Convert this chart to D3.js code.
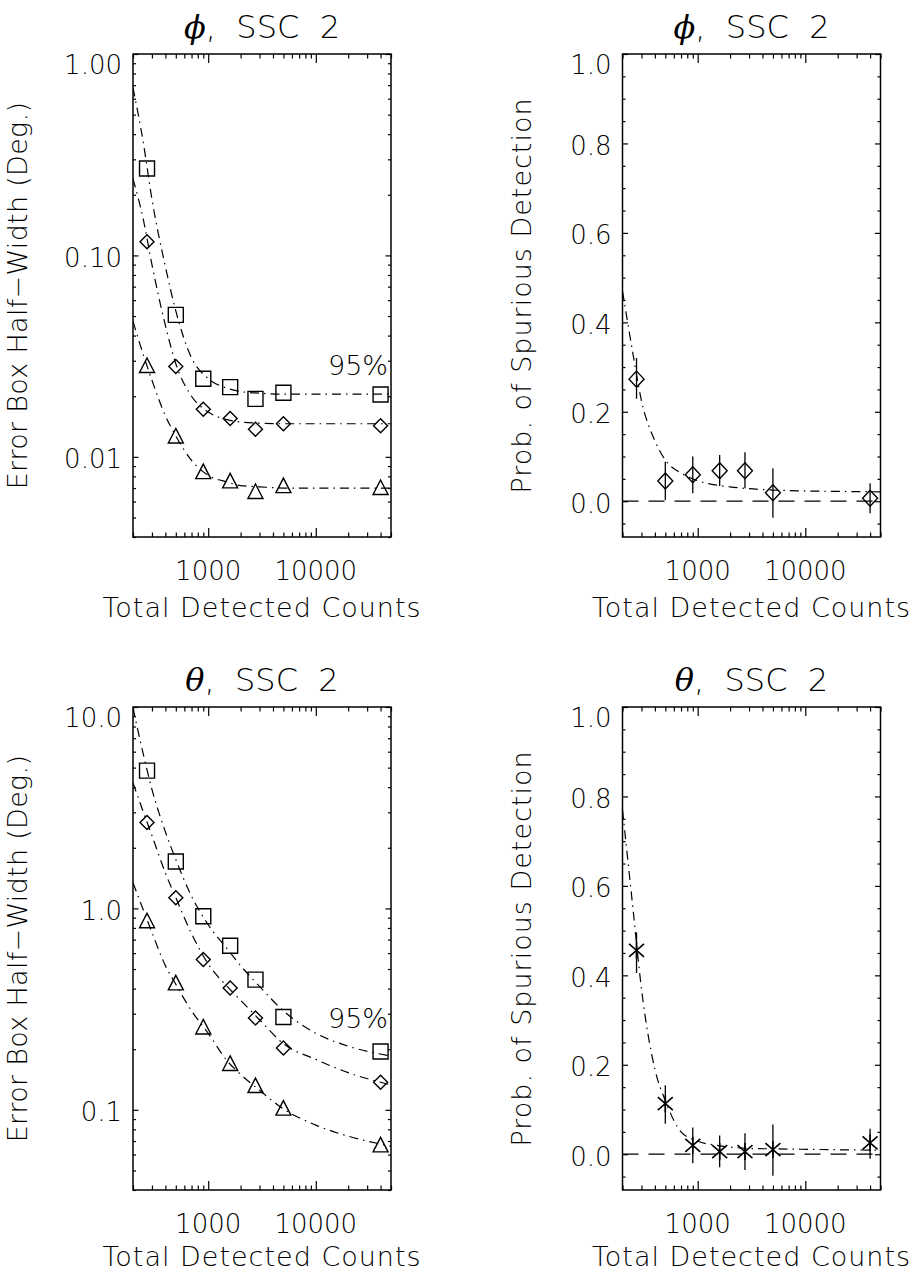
<!DOCTYPE html>
<html>
<head>
<meta charset="utf-8">
<script src="https://cdn.jsdelivr.net/npm/d3@7"></script>
<style>
body { margin: 0; background: #fff; }
text { font-family: "DejaVu Sans", sans-serif; font-weight: 200; fill: #000; }
</style>
</head>
<body>
<svg id="fig" width="917" height="1272"></svg>
<script>
// total detected counts of the simulated sources
const counts = [270, 500, 900, 1600, 2750, 5000, 40000]
const fitCounts = [200, 250, 300, 400, 500, 700, 1000, 1500, 2000, 3000, 5000, 10000, 20000, 50000]

// phi, error box half-width (deg): square = 95%, diamond, triangle
const phiSquare   = [0.27, 0.0507, 0.0244, 0.0222, 0.0194, 0.0208, 0.0204]
const phiDiamond  = [0.117, 0.0281, 0.01725, 0.0155, 0.0137, 0.0146, 0.01425]
const phiTriangle = [0.0284, 0.0127, 0.00845, 0.0076, 0.00673, 0.0072, 0.00704]
const phiSquareFit   = [0.68, 0.36, 0.19, 0.088, 0.053, 0.031, 0.0245, 0.0219, 0.0211, 0.0207, 0.0205, 0.0205, 0.0205, 0.0205]
const phiDiamondFit  = [0.24, 0.15, 0.09, 0.045, 0.029, 0.020, 0.0167, 0.0153, 0.0149, 0.0147, 0.0146, 0.0146, 0.0146, 0.0146]
const phiTriangleFit = [0.047, 0.032, 0.024, 0.016, 0.0127, 0.0096, 0.0081, 0.0075, 0.0072, 0.0071, 0.0070, 0.0070, 0.0070, 0.0070]

// theta, error box half-width (deg)
const thSquare   = [4.83, 1.71, 0.914, 0.653, 0.443, 0.289, 0.195]
const thDiamond  = [2.67, 1.13, 0.557, 0.403, 0.286, 0.203, 0.137]
const thTriangle = [0.869, 0.427, 0.258, 0.170, 0.132, 0.102, 0.067]
const thSquareFit   = [9.9, 5.8, 3.9, 2.4, 1.75, 1.15, 0.83, 0.63, 0.52, 0.41, 0.31, 0.24, 0.207, 0.185]
const thDiamondFit  = [4.2, 3.0, 2.3, 1.5, 1.13, 0.75, 0.53, 0.41, 0.35, 0.28, 0.213, 0.178, 0.153, 0.133]
const thTriangleFit = [1.34, 0.98, 0.76, 0.52, 0.42, 0.31, 0.24, 0.175, 0.150, 0.125, 0.101, 0.084, 0.074, 0.066]

// probability of spurious detection with error bars
const phiProb   = [0.273, 0.045, 0.059, 0.068, 0.068, 0.019, 0.0067]
const phiProbHi = [0.320, 0.0885, 0.100, 0.1035, 0.1095, 0.074, 0.040]
const phiProbLo = [0.229, 0.003, 0.018, 0.034, 0.029, -0.037, -0.027]
const phiProbFit = [0.47, 0.33, 0.225, 0.135, 0.092, 0.063, 0.046, 0.036, 0.032, 0.028, 0.025, 0.023, 0.022, 0.021]

const thProb   = [0.456, 0.113, 0.020, 0.006, 0.006, 0.0105, 0.0255]
const thProbHi = [0.496, 0.154, 0.060, 0.042, 0.047, 0.0665, 0.057]
const thProbLo = [0.405, 0.068, -0.020, -0.029, -0.035, -0.048, -0.010]
const thProbFit = [0.77, 0.55, 0.37, 0.19, 0.12, 0.050, 0.029, 0.020, 0.016, 0.013, 0.012, 0.011, 0.010, 0.009]

const xMajor = [1000, 10000]
const logYLabels = { phi: ["1.00", "0.10", "0.01"], theta: ["10.0", "1.0", "0.1"] }

const svg = d3.select("#fig")
const W = 258, H = 483
const dashDot = "9,5,1.5,5"

const markerPath = {
    square:   "M-7.5,-7.5H7.5V7.5H-7.5Z",
    diamond:  "M0,-7L7,0L0,7L-7,0Z",
    bdiamond: "M0,-8L7.5,0L0,8L-7.5,0Z",
    triangle: "M0,-7.5L7.5,7L-7.5,7Z",
    star:     "M0,-8.5V8.5M-7.5,-6.5L7.5,6.5M-7.5,6.5L7.5,-6.5"
}

function panel(o)
{
    let g = svg.append("g").attr("transform", `translate(${o.left},${o.top})`)
    let x = d3.scaleLog().domain([200, 50000]).range([0, W])
    let y = o.log ? d3.scaleLog().domain(o.yDomain).range([H, 0])
                  : d3.scaleLinear().domain(o.yDomain).range([H, 0])

    let clipId = "clip" + o.id
    g.append("clipPath").attr("id", clipId).append("rect").attr("width", W).attr("height", H)

    // ticks, IDL style: inward on all four sides
    let xMinor = x.ticks().filter(d => !xMajor.includes(d))
    let yMajor, yMinor
    if (o.log) {
        yMinor = y.ticks()
        yMajor = yMinor.filter(d => Math.abs(Math.log10(d) - Math.round(Math.log10(d))) < 1e-6)
        yMinor = yMinor.filter(d => !yMajor.includes(d))
    } else {
        yMajor = d3.range(0, 1.0001, 0.2)
        yMinor = d3.range(-0.05, 1.0001, 0.05).filter(d => Math.abs(d / 0.2 - Math.round(d / 0.2)) > 1e-6)
    }
    function ax(fn, vals, size, tr) {
        let a = g.append("g").attr("transform", tr)
            .call(fn.tickValues(vals).tickSize(-size).tickSizeOuter(0).tickFormat(""))
        a.select(".domain").remove()
        a.selectAll("line").attr("stroke", "#000").attr("stroke-width", 1.2)
    }
    ax(d3.axisBottom(x), xMinor, 4.5, `translate(0,${H})`)
    ax(d3.axisBottom(x), xMajor, 9, `translate(0,${H})`)
    ax(d3.axisTop(x), xMinor, 4.5, "translate(0,0)")
    ax(d3.axisTop(x), xMajor, 9, "translate(0,0)")
    ax(d3.axisLeft(y), yMinor, 3, "translate(0,0)")
    ax(d3.axisLeft(y), yMajor, 5.5, "translate(0,0)")
    ax(d3.axisRight(y), yMinor, 3, `translate(${W},0)`)
    ax(d3.axisRight(y), yMajor, 5.5, `translate(${W},0)`)

    g.append("rect").attr("width", W).attr("height", H)
        .attr("fill", "none").attr("stroke", "#000").attr("stroke-width", 1.5)

    // tick labels
    g.selectAll(".xl").data(xMajor).enter().append("text")
        .attr("x", d => x(d)).attr("y", H + 43)
        .attr("text-anchor", "middle").style("font-size", "26px")
        .text(d => d)
    g.selectAll(".yl").data(yMajor).enter().append("text")
        .attr("x", -11)
        .attr("y", d => y(d) + (Math.abs(y(d)) < 1 ? 20 : 11.5))
        .attr("text-anchor", "end").style("font-size", "26px")
        .text((d, i) => o.log ? o.yLabels[yMajor.length - 1 - i] : d.toFixed(1))

    // axis titles
    g.append("text").attr("x", W / 2).attr("y", H + o.xTitleDy)
        .attr("text-anchor", "middle").style("font-size", "27px").style("letter-spacing", "1px")
        .text("Total Detected Counts")
    g.append("text")
        .attr("transform", `translate(${o.yTitleX},${H / 2}) rotate(-90)`)
        .attr("text-anchor", "middle").style("font-size", o.yTitleSize)
        .style("letter-spacing", o.yTitleSpacing)
        .text(o.yTitle)

    // panel title
    let t = g.append("text").attr("x", W / 2).attr("y", -16)
        .attr("text-anchor", "middle").style("font-size", "32px")
    t.append("tspan").style("font-family", "'DejaVu Serif', serif").style("font-style", "italic")
        .style("font-weight", "normal").text(o.greek)
    t.append("tspan").style("white-space", "pre").text(",  SSC  2")

    let plot = g.append("g").attr("clip-path", `url(#${clipId})`)
    let line = d3.line().x((d, i) => x(fitCounts[i])).y(d => y(d)).curve(d3.curveMonotoneX)

    if (o.zero) {
        plot.append("line").attr("x1", 0).attr("x2", W).attr("y1", y(0)).attr("y2", y(0))
            .attr("stroke", "#000").attr("stroke-width", 1.2).attr("stroke-dasharray", "16,10")
    }

    o.series.forEach(s => {
        plot.append("path").attr("d", line(s.fit))
            .attr("fill", "none").attr("stroke", "#000").attr("stroke-width", 1.2)
            .attr("stroke-dasharray", dashDot)
        if (s.hi) {
            plot.selectAll(null).data(s.values).enter().append("line")
                .attr("x1", (d, i) => x(counts[i])).attr("x2", (d, i) => x(counts[i]))
                .attr("y1", (d, i) => y(s.lo[i])).attr("y2", (d, i) => y(s.hi[i]))
                .attr("stroke", "#000").attr("stroke-width", 1.3)
        }
        plot.selectAll(null).data(s.values).enter().append("path")
            .attr("transform", (d, i) => `translate(${x(counts[i])},${y(d)})`)
            .attr("d", markerPath[s.marker])
            .attr("fill", "none").attr("stroke", "#000")
            .attr("stroke-width", s.marker == "star" ? 1.6 : 1.4)
    })

    if (o.note) {
        g.append("text").attr("x", W - 3).attr("y", 321)
            .attr("text-anchor", "end").style("font-size", "27px").text(o.note)
    }
}

panel({ id: 1, left: 133, top: 54, log: true, yDomain: [0.004, 1], yLabels: logYLabels.phi,
        greek: "\u03d5", yTitle: "Error Box Half\u2212Width (Deg.)", yTitleX: -106,
        yTitleSize: "27px", yTitleSpacing: "0.3px", xTitleDy: 80, note: "95%",
        series: [ { values: phiSquare, fit: phiSquareFit, marker: "square" },
                  { values: phiDiamond, fit: phiDiamondFit, marker: "diamond" },
                  { values: phiTriangle, fit: phiTriangleFit, marker: "triangle" } ] })

panel({ id: 2, left: 622.5, top: 54, log: false, yDomain: [-0.08, 1.0], zero: true,
        greek: "\u03d5", yTitle: "Prob. of Spurious Detection", yTitleX: -92,
        yTitleSize: "27px", yTitleSpacing: "1px", xTitleDy: 80,
        series: [ { values: phiProb, hi: phiProbHi, lo: phiProbLo, fit: phiProbFit, marker: "bdiamond" } ] })

panel({ id: 3, left: 133, top: 707, log: true, yDomain: [0.04, 10], yLabels: logYLabels.theta,
        greek: "\u03b8", yTitle: "Error Box Half\u2212Width (Deg.)", yTitleX: -106,
        yTitleSize: "27px", yTitleSpacing: "0.3px", xTitleDy: 76, note: "95%",
        series: [ { values: thSquare, fit: thSquareFit, marker: "square" },
                  { values: thDiamond, fit: thDiamondFit, marker: "diamond" },
                  { values: thTriangle, fit: thTriangleFit, marker: "triangle" } ] })

panel({ id: 4, left: 622.5, top: 707, log: false, yDomain: [-0.08, 1.0], zero: true,
        greek: "\u03b8", yTitle: "Prob. of Spurious Detection", yTitleX: -92,
        yTitleSize: "27px", yTitleSpacing: "1px", xTitleDy: 76,
        series: [ { values: thProb, hi: thProbHi, lo: thProbLo, fit: thProbFit, marker: "star" } ] })
</script>
</body>
</html>
